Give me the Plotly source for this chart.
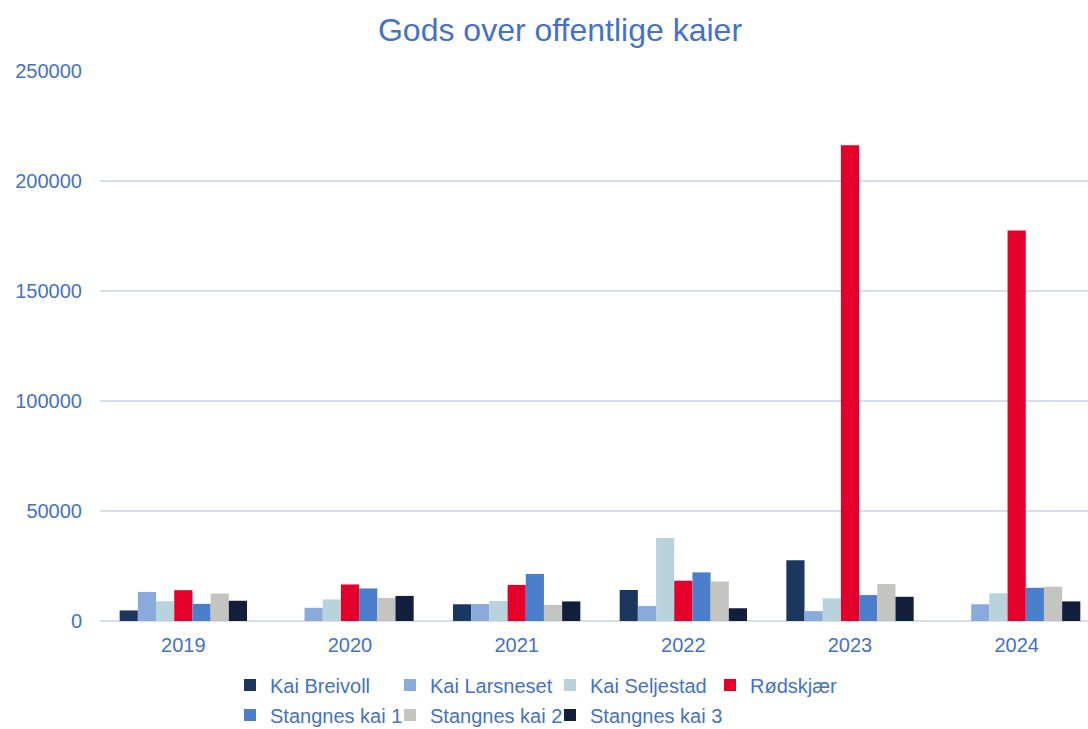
import plotly.graph_objects as go

years = ["2019", "2020", "2021", "2022", "2023", "2024"]

kai_breivoll = [4800, 0, 7600, 14100, 27600, 0]
kai_larsneset = [13200, 6000, 7700, 6800, 4500, 7600]
kai_seljestad = [9000, 9800, 9100, 37700, 10300, 12600]
rodskjaer = [14000, 16600, 16400, 18300, 216300, 177500]
stangnes_kai_1 = [7800, 14800, 21400, 22100, 11800, 15100]
stangnes_kai_2 = [12500, 10500, 7300, 18000, 16800, 15600]
stangnes_kai_3 = [9200, 11400, 8900, 5800, 11000, 8900]

series = [
    ("Kai Breivoll", kai_breivoll, "#1C375F", "legend"),
    ("Kai Larsneset", kai_larsneset, "#8AAADC", "legend"),
    ("Kai Seljestad", kai_seljestad, "#B9D3DC", "legend"),
    ("Rødskjær", rodskjaer, "#E4002B", "legend"),
    ("Stangnes kai 1", stangnes_kai_1, "#4C7FCB", "legend2"),
    ("Stangnes kai 2", stangnes_kai_2, "#C4C4C0", "legend2"),
    ("Stangnes kai 3", stangnes_kai_3, "#111F3A", "legend2"),
]

text_color = "#4472C4"
font_family = "Liberation Sans, Arial, sans-serif"

fig = go.Figure()
for name, vals, color, leg in series:
    fig.add_trace(go.Bar(
        x=years, y=vals, name=name, legend=leg,
        marker=dict(color=color, line=dict(width=0)),
    ))

# invisible spacer entry so the last legend label is not clipped
fig.add_trace(go.Scatter(
    x=[None], y=[None], name=" ", legend="legend2", mode="markers",
    marker=dict(color="rgba(0,0,0,0)"), hoverinfo="skip",
))

W, H = 1088, 729
L, R, T, B = 100, 0, 71, 108
pw = W - L - R

legend_common = dict(
    orientation="h",
    font=dict(family=font_family, size=20, color=text_color),
    bgcolor="rgba(0,0,0,0)",
    entrywidthmode="pixels",
    entrywidth=115,
    xref="container", yref="container",
    xanchor="left",
    yanchor="middle",
    itemclick=False,
    itemdoubleclick=False,
)

fig.update_layout(
    width=W, height=H, autosize=False,
    margin=dict(l=L, r=R, t=T, b=B, pad=0),
    paper_bgcolor="white", plot_bgcolor="white",
    barmode="group", bargap=0.236, bargroupgap=0,
    title=dict(
        text="Gods over offentlige kaier",
        font=dict(family=font_family, size=32, color=text_color),
        x=560 / W, xref="container", xanchor="center",
        y=1 - 30 / H, yref="container", yanchor="middle",
    ),
    font=dict(family=font_family, size=20, color=text_color),
    legend=dict(legend_common, x=230 / W, y=1 - 685 / H),
    legend2=dict(legend_common, x=230 / W, y=1 - 715 / H),
    xaxis=dict(
        type="category",
        range=[-0.5, -0.5 + pw / (1000 / 6)],
        showgrid=False, zeroline=False, showline=False,
        ticks="", ticklabelstandoff=10,
        tickfont=dict(family=font_family, size=20, color=text_color),
    ),
    yaxis=dict(
        range=[0, 250000], dtick=50000, tickformat="d",
        showgrid=True, gridcolor="#D5DFF0", gridwidth=1.5,
        zeroline=True, zerolinecolor="#D5DFF0", zerolinewidth=1.5,
        showline=False, ticks="", ticklabelstandoff=17,
        tickfont=dict(family=font_family, size=20, color=text_color),
    ),
)

fig.write_html("out.html", config={"displayModeBar": False},
               post_script="document.body.style.margin='0';")
